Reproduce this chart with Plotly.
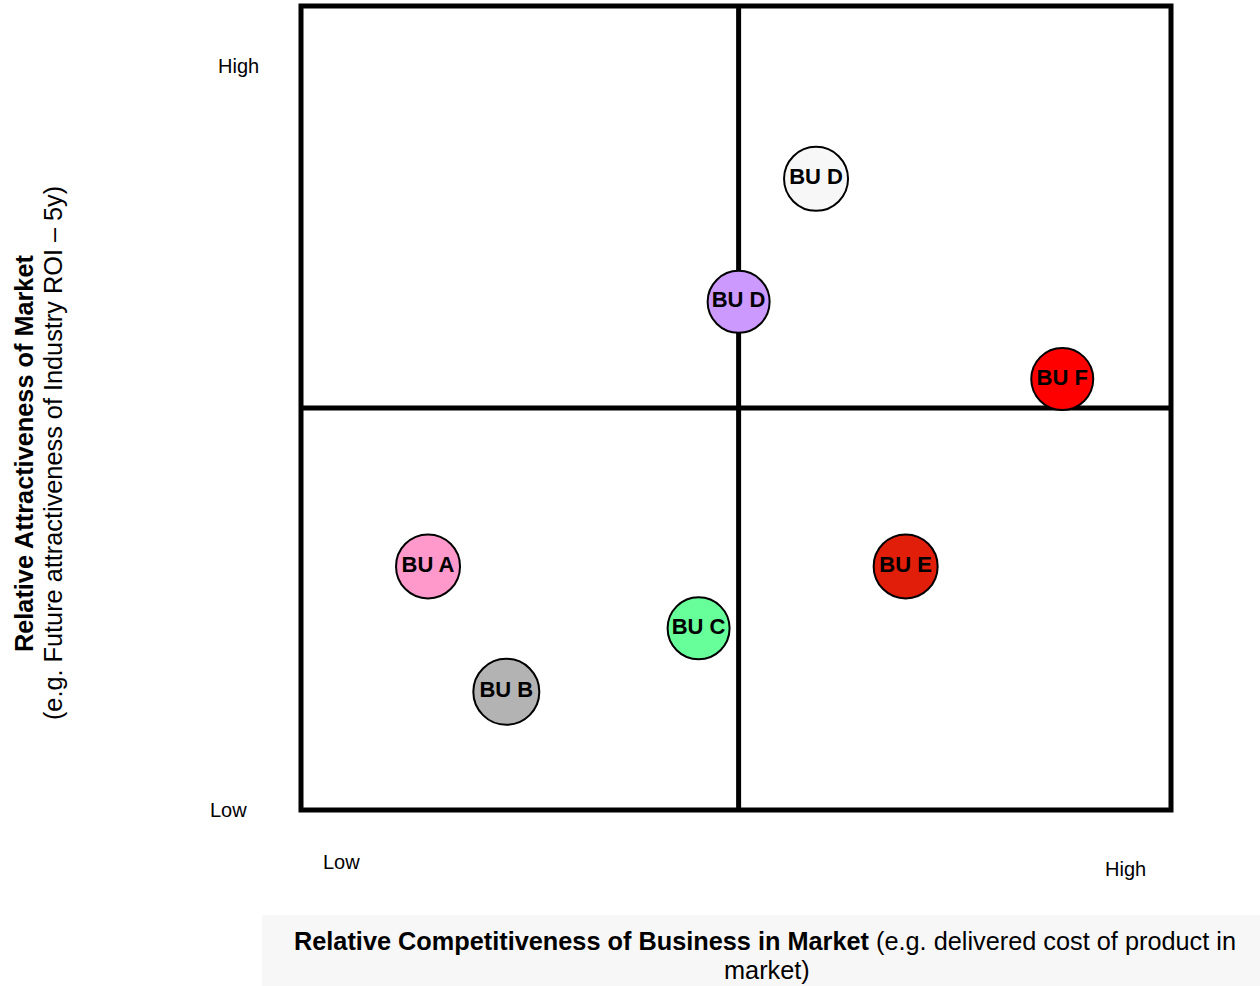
import plotly.graph_objects as go

# Business units positioned on a 0-10 competitiveness / attractiveness grid
units = ["BU D", "BU D", "BU F", "BU A", "BU C", "BU B", "BU E"]
competitiveness = [5.92, 5.03, 8.75, 1.46, 4.57, 2.36, 6.95]
attractiveness = [7.85, 6.32, 5.36, 3.03, 2.26, 1.47, 3.03]
fill_colors = ["#f7f7f7", "#cc99ff", "#ff0000", "#ff99cc", "#66ff99", "#b3b3b3", "#e01e0a"]
bubble_size = [64, 62, 62, 64, 62, 66, 64]

axis_low, axis_high = 0, 10
divider_x, divider_y = 5.03, 5.0
FONT = "Liberation Sans, Arial, sans-serif"

fig = go.Figure()
fig.add_trace(go.Scatter(
    x=competitiveness, y=attractiveness, mode="markers+text",
    text=units, textposition="middle center",
    textfont=dict(family=FONT, size=22, color="black", weight="bold"),
    marker=dict(size=bubble_size, color=fill_colors,
                line=dict(color="black", width=2), opacity=1),
    hoverinfo="text", showlegend=False,
))

line_style = dict(color="black", width=5)
shapes = [
    # outer frame (paper refs so the stroke is not clipped at the plot edge)
    dict(type="rect", xref="paper", yref="paper", x0=0, x1=1, y0=0, y1=1,
         line=line_style, layer="below"),
    dict(type="line", xref="x", yref="y", x0=divider_x, x1=divider_x,
         y0=axis_low, y1=axis_high, line=line_style, layer="below"),
    dict(type="line", xref="x", yref="y", x0=axis_low, x1=axis_high,
         y0=divider_y, y1=divider_y, line=line_style, layer="below"),
    # shaded band behind the horizontal axis title
    dict(type="rect", xref="paper", yref="paper", x0=-0.0448, x1=1.12,
         y0=-0.25, y1=-0.1306, fillcolor="#f7f7f7", line=dict(width=0),
         layer="below"),
]

label_font = dict(family=FONT, size=20, color="black")
title_font = dict(family=FONT, size=25.3, color="black")


def note(text, x, y, font, **kw):
    return dict(text=text, x=x, y=y, xref="paper", yref="paper",
                xanchor="center", yanchor="middle", showarrow=False,
                font=font, **kw)


annotations = [
    note("High", -0.0724, 0.9254, label_font),
    note("Low", -0.0828, 0.0, label_font),
    note("Low", 0.046, -0.0647, label_font),
    note("High", 0.948, -0.0734, label_font),
    note("<b>Relative Attractiveness of Market</b>", -0.3184, 0.444,
         title_font, textangle=-90),
    note("(e.g. Future attractiveness of Industry ROI – 5y)", -0.285, 0.444,
         title_font, textangle=-90),
    note("<b>Relative Competitiveness of Business in Market</b> "
         "(e.g. delivered cost of product in", 0.5333, -0.163, title_font),
    note("market)", 0.5356, -0.199, title_font),
]

fig.update_layout(
    width=1260, height=986,
    margin=dict(l=301, r=89, t=6, b=176),
    paper_bgcolor="white", plot_bgcolor="white",
    xaxis=dict(range=[axis_low, axis_high], visible=False, fixedrange=True),
    yaxis=dict(range=[axis_low, axis_high], visible=False, fixedrange=True),
    shapes=shapes, annotations=annotations,
)

fig.write_html("out.html")
